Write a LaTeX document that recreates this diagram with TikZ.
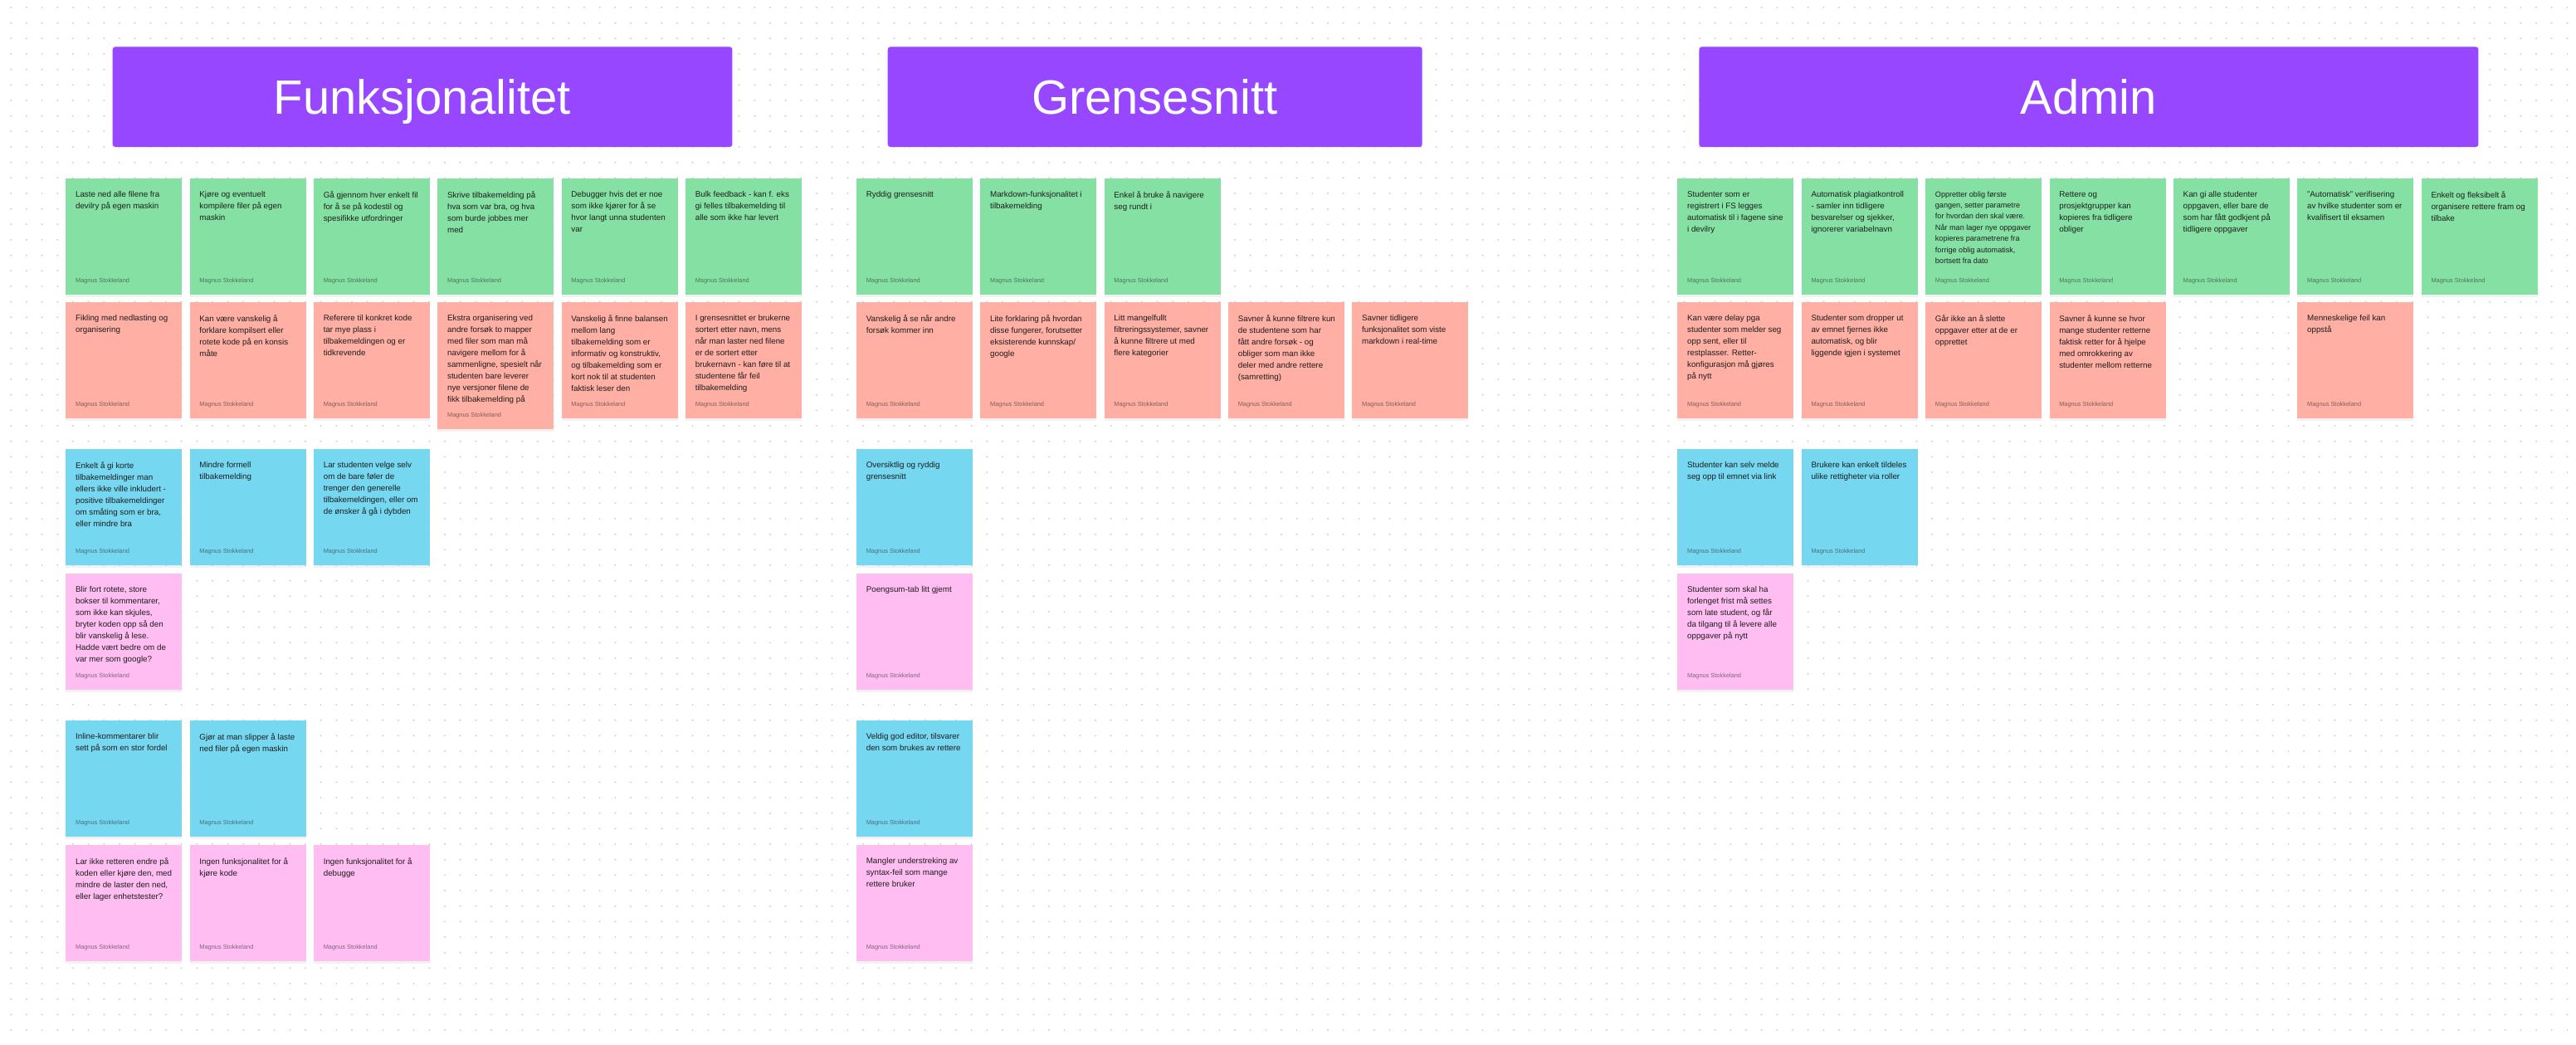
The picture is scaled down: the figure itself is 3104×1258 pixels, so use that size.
\documentclass[tikz,border=0pt]{standalone}
\usepackage{fontspec}
\setmainfont{Liberation Sans}
\usetikzlibrary{shadows}
\definecolor{stgreen}{HTML}{85E0A3}
\definecolor{stred}{HTML}{FFAFA3}
\definecolor{stteal}{HTML}{75D7F0}
\definecolor{stpink}{HTML}{FFBDF2}
\definecolor{hdrpurple}{HTML}{9747FF}
\definecolor{inkdark}{HTML}{1E1E1E}
\definecolor{dotgray}{HTML}{CFCFCF}
\tikzset{
 note/.style={rectangle, draw=none, anchor=north west, minimum width=70pt, minimum height=70pt, inner sep=0pt,
   drop shadow={shadow xshift=0pt, shadow yshift=-1.2pt, opacity=0.10}},
 tallnote/.style={minimum height=76.5pt},
 gnote/.style={note, fill=stgreen},
 rnote/.style={note, fill=stred},
 bnote/.style={note, fill=stteal},
 pnote/.style={note, fill=stpink},
 notetext/.style={anchor=north west, inner sep=0pt, align=left, text=inkdark, font=\fontsize{4.9pt}{7pt}\selectfont},
 smalltext/.style={font=\fontsize{4.55pt}{6.7pt}\selectfont},
 notefoot/.style={anchor=base west, inner sep=0pt, text=inkdark, text opacity=0.55, font=\fontsize{3.7pt}{4.4pt}\selectfont},
 header/.style={rectangle, rounded corners=1.6pt, fill=hdrpurple, draw=none, anchor=north west, minimum height=60.35pt, inner sep=0pt},
 headtext/.style={text=white, font=\fontsize{29pt}{35pt}\selectfont, inner sep=0pt, anchor=base},
 dotrow/.style={draw=dotgray, line width=1.1pt, line cap=round, dash pattern=on 0pt off 9.3335pt}
}
% #1 extra text style, #2 note style, #3 name, #4 x, #5 y, #6 text
\newcommand{\mknote}[6][]{%
  \node[#2] (#3) at (#4,#5) {};
  \node[notetext,#1] (#3t) at ([xshift=5.85pt,yshift=-7.7pt]#3.north west) {#6};
  \node[notefoot] (#3f) at ([xshift=5.85pt,yshift=7.5pt]#3.south west) {Magnus Stokkeland};
}
\begin{document}
\begin{tikzpicture}[x=0.5pt,y=-0.5pt]
\fill[white] (0,0) rectangle (3104,1258);
\useasboundingbox (0,0) rectangle (3104,1258);
\foreach \k in {0,...,66} {\path[dotrow] (13.3,{9+18.667*\k}) -- (3104,{9+18.667*\k});}

% headers
\node[header, minimum width=373.35pt] (hF) at (135.3,56) {};
\node[headtext] (tF) at (508.7,137.5) {Funksjonalitet};
\node[header, minimum width=322pt] (hG) at (1069.3,56) {};
\node[headtext] (tG) at (1391.3,137.5) {Grensesnitt};
\node[header, minimum width=469.5pt] (hA) at (2047,56) {};
\node[headtext] (tA) at (2516.5,137.5) {Admin};

% ---------------- Funksjonalitet ----------------
\mknote{gnote}{f11}{79}{214.7}{Laste ned alle filene fra\\devilry på egen maskin}
\mknote{gnote}{f12}{228.3}{214.7}{Kjøre og eventuelt\\kompilere filer på egen\\maskin}
\mknote{gnote}{f13}{377.7}{214.7}{Gå gjennom hver enkelt fil\\for å se på kodestil og\\spesifikke utfordringer}
\mknote{gnote}{f14}{527}{214.7}{Skrive tilbakemelding på\\hva som var bra, og hva\\som burde jobbes mer\\med}
\mknote{gnote}{f15}{676.3}{214.7}{Debugger hvis det er noe\\som ikke kjører for å se\\hvor langt unna studenten\\var}
\mknote{gnote}{f16}{825.7}{214.7}{Bulk feedback - kan f. eks\\gi felles tilbakemelding til\\alle som ikke har levert}

\mknote{rnote}{f21}{79}{364}{Fikling med nedlasting og\\organisering}
\mknote{rnote}{f22}{228.3}{364}{Kan være vanskelig å\\forklare kompilsert eller\\rotete kode på en konsis\\måte}
\mknote{rnote}{f23}{377.7}{364}{Referere til konkret kode\\tar mye plass i\\tilbakemeldingen og er\\tidkrevende}
\mknote{rnote,tallnote}{f24}{527}{364}{Ekstra organisering ved\\andre forsøk to mapper\\med filer som man må\\navigere mellom for å\\sammenligne, spesielt når\\studenten bare leverer\\nye versjoner filene de\\fikk tilbakemelding på}
\mknote{rnote}{f25}{676.3}{364}{Vanskelig å finne balansen\\mellom lang\\tilbakemelding som er\\informativ og konstruktiv,\\og tilbakemelding som er\\kort nok til at studenten\\faktisk leser den}
\mknote{rnote}{f26}{825.7}{364}{I grensesnittet er brukerne\\sortert etter navn, mens\\når man laster ned filene\\er de sortert etter\\brukernavn - kan føre til at\\studentene får feil\\tilbakemelding}

\mknote{bnote}{f31}{79}{541}{Enkelt å gi korte\\tilbakemeldinger man\\ellers ikke ville inkludert -\\positive tilbakemeldinger\\om småting som er bra,\\eller mindre bra}
\mknote{bnote}{f32}{228.3}{541}{Mindre formell\\tilbakemelding}
\mknote{bnote}{f33}{377.7}{541}{Lar studenten velge selv\\om de bare føler de\\trenger den generelle\\tilbakemeldingen, eller om\\de ønsker å gå i dybden}

\mknote{pnote}{f41}{79}{690.7}{Blir fort rotete, store\\bokser til kommentarer,\\som ikke kan skjules,\\bryter koden opp så den\\blir vanskelig å lese.\\Hadde vært bedre om de\\var mer som google?}

\mknote{bnote}{f51}{79}{868}{Inline-kommentarer blir\\sett på som en stor fordel}
\mknote{bnote}{f52}{228.3}{868}{Gjør at man slipper å laste\\ned filer på egen maskin}

\mknote{pnote}{f61}{79}{1017.7}{Lar ikke retteren endre på\\koden eller kjøre den, med\\mindre de laster den ned,\\eller lager enhetstester?}
\mknote{pnote}{f62}{228.3}{1017.7}{Ingen funksjonalitet for å\\kjøre kode}
\mknote{pnote}{f63}{377.7}{1017.7}{Ingen funksjonalitet for å\\debugge}

% ---------------- Grensesnitt ----------------
\mknote{gnote}{g11}{1031.7}{214.7}{Ryddig grensesnitt}
\mknote{gnote}{g12}{1181}{214.7}{Markdown-funksjonalitet i\\tilbakemelding}
\mknote{gnote}{g13}{1330.3}{214.7}{Enkel å bruke å navigere\\seg rundt i}

\mknote{rnote}{g21}{1031.7}{364}{Vanskelig å se når andre\\forsøk kommer inn}
\mknote{rnote}{g22}{1181}{364}{Lite forklaring på hvordan\\disse fungerer, forutsetter\\eksisterende kunnskap/\\google}
\mknote{rnote}{g23}{1330.3}{364}{Litt mangelfullt\\filtreringssystemer, savner\\å kunne filtrere ut med\\flere kategorier}
\mknote{rnote}{g24}{1479.7}{364}{Savner å kunne filtrere kun\\de studentene som har\\fått andre forsøk - og\\obliger som man ikke\\deler med andre rettere\\(samretting)}
\mknote{rnote}{g25}{1629}{364}{Savner tidligere\\funksjonalitet som viste\\markdown i real-time}

\mknote{bnote}{g31}{1031.7}{541}{Oversiktlig og ryddig\\grensesnitt}
\mknote{pnote}{g41}{1031.7}{690.7}{Poengsum-tab litt gjemt}
\mknote{bnote}{g51}{1031.7}{868}{Veldig god editor, tilsvarer\\den som brukes av rettere}
\mknote{pnote}{g61}{1031.7}{1017.7}{Mangler understreking av\\syntax-feil som mange\\rettere bruker}

% ---------------- Admin ----------------
\mknote{gnote}{a11}{2021}{214.7}{Studenter som er\\registrert i FS legges\\automatisk til i fagene sine\\i devilry}
\mknote{gnote}{a12}{2170.4}{214.7}{Automatisk plagiatkontroll\\- samler inn tidligere\\besvarelser og sjekker,\\ignorerer variabelnavn}
\mknote[smalltext]{gnote}{a13}{2319.8}{214.7}{Oppretter oblig første\\gangen, setter parametre\\for hvordan den skal være.\\Når man lager nye oppgaver\\kopieres parametrene fra\\forrige oblig automatisk,\\bortsett fra dato}
\mknote{gnote}{a14}{2469.2}{214.7}{Rettere og\\prosjektgrupper kan\\kopieres fra tidligere\\obliger}
\mknote{gnote}{a15}{2618.6}{214.7}{Kan gi alle studenter\\oppgaven, eller bare de\\som har fått godkjent på\\tidligere oppgaver}
\mknote{gnote}{a16}{2768}{214.7}{"Automatisk" verifisering\\av hvilke studenter som er\\kvalifisert til eksamen}
\mknote{gnote}{a17}{2917.4}{214.7}{Enkelt og fleksibelt å\\organisere rettere fram og\\tilbake}

\mknote{rnote}{a21}{2021}{364}{Kan være delay pga\\studenter som melder seg\\opp sent, eller til\\restplasser. Retter-\\konfigurasjon må gjøres\\på nytt}
\mknote{rnote}{a22}{2170.4}{364}{Studenter som dropper ut\\av emnet fjernes ikke\\automatisk, og blir\\liggende igjen i systemet}
\mknote{rnote}{a23}{2319.8}{364}{Går ikke an å slette\\oppgaver etter at de er\\opprettet}
\mknote{rnote}{a24}{2469.2}{364}{Savner å kunne se hvor\\mange studenter retterne\\faktisk retter for å hjelpe\\med omrokkering av\\studenter mellom retterne}
\mknote{rnote}{a26}{2768}{364}{Menneskelige feil kan\\oppstå}

\mknote{bnote}{a31}{2021}{541}{Studenter kan selv melde\\seg opp til emnet via link}
\mknote{bnote}{a32}{2170.4}{541}{Brukere kan enkelt tildeles\\ulike rettigheter via roller}

\mknote{pnote}{a41}{2021}{690.7}{Studenter som skal ha\\forlenget frist må settes\\som late student, og får\\da tilgang til å levere alle\\oppgaver på nytt}
\end{tikzpicture}
\end{document}
